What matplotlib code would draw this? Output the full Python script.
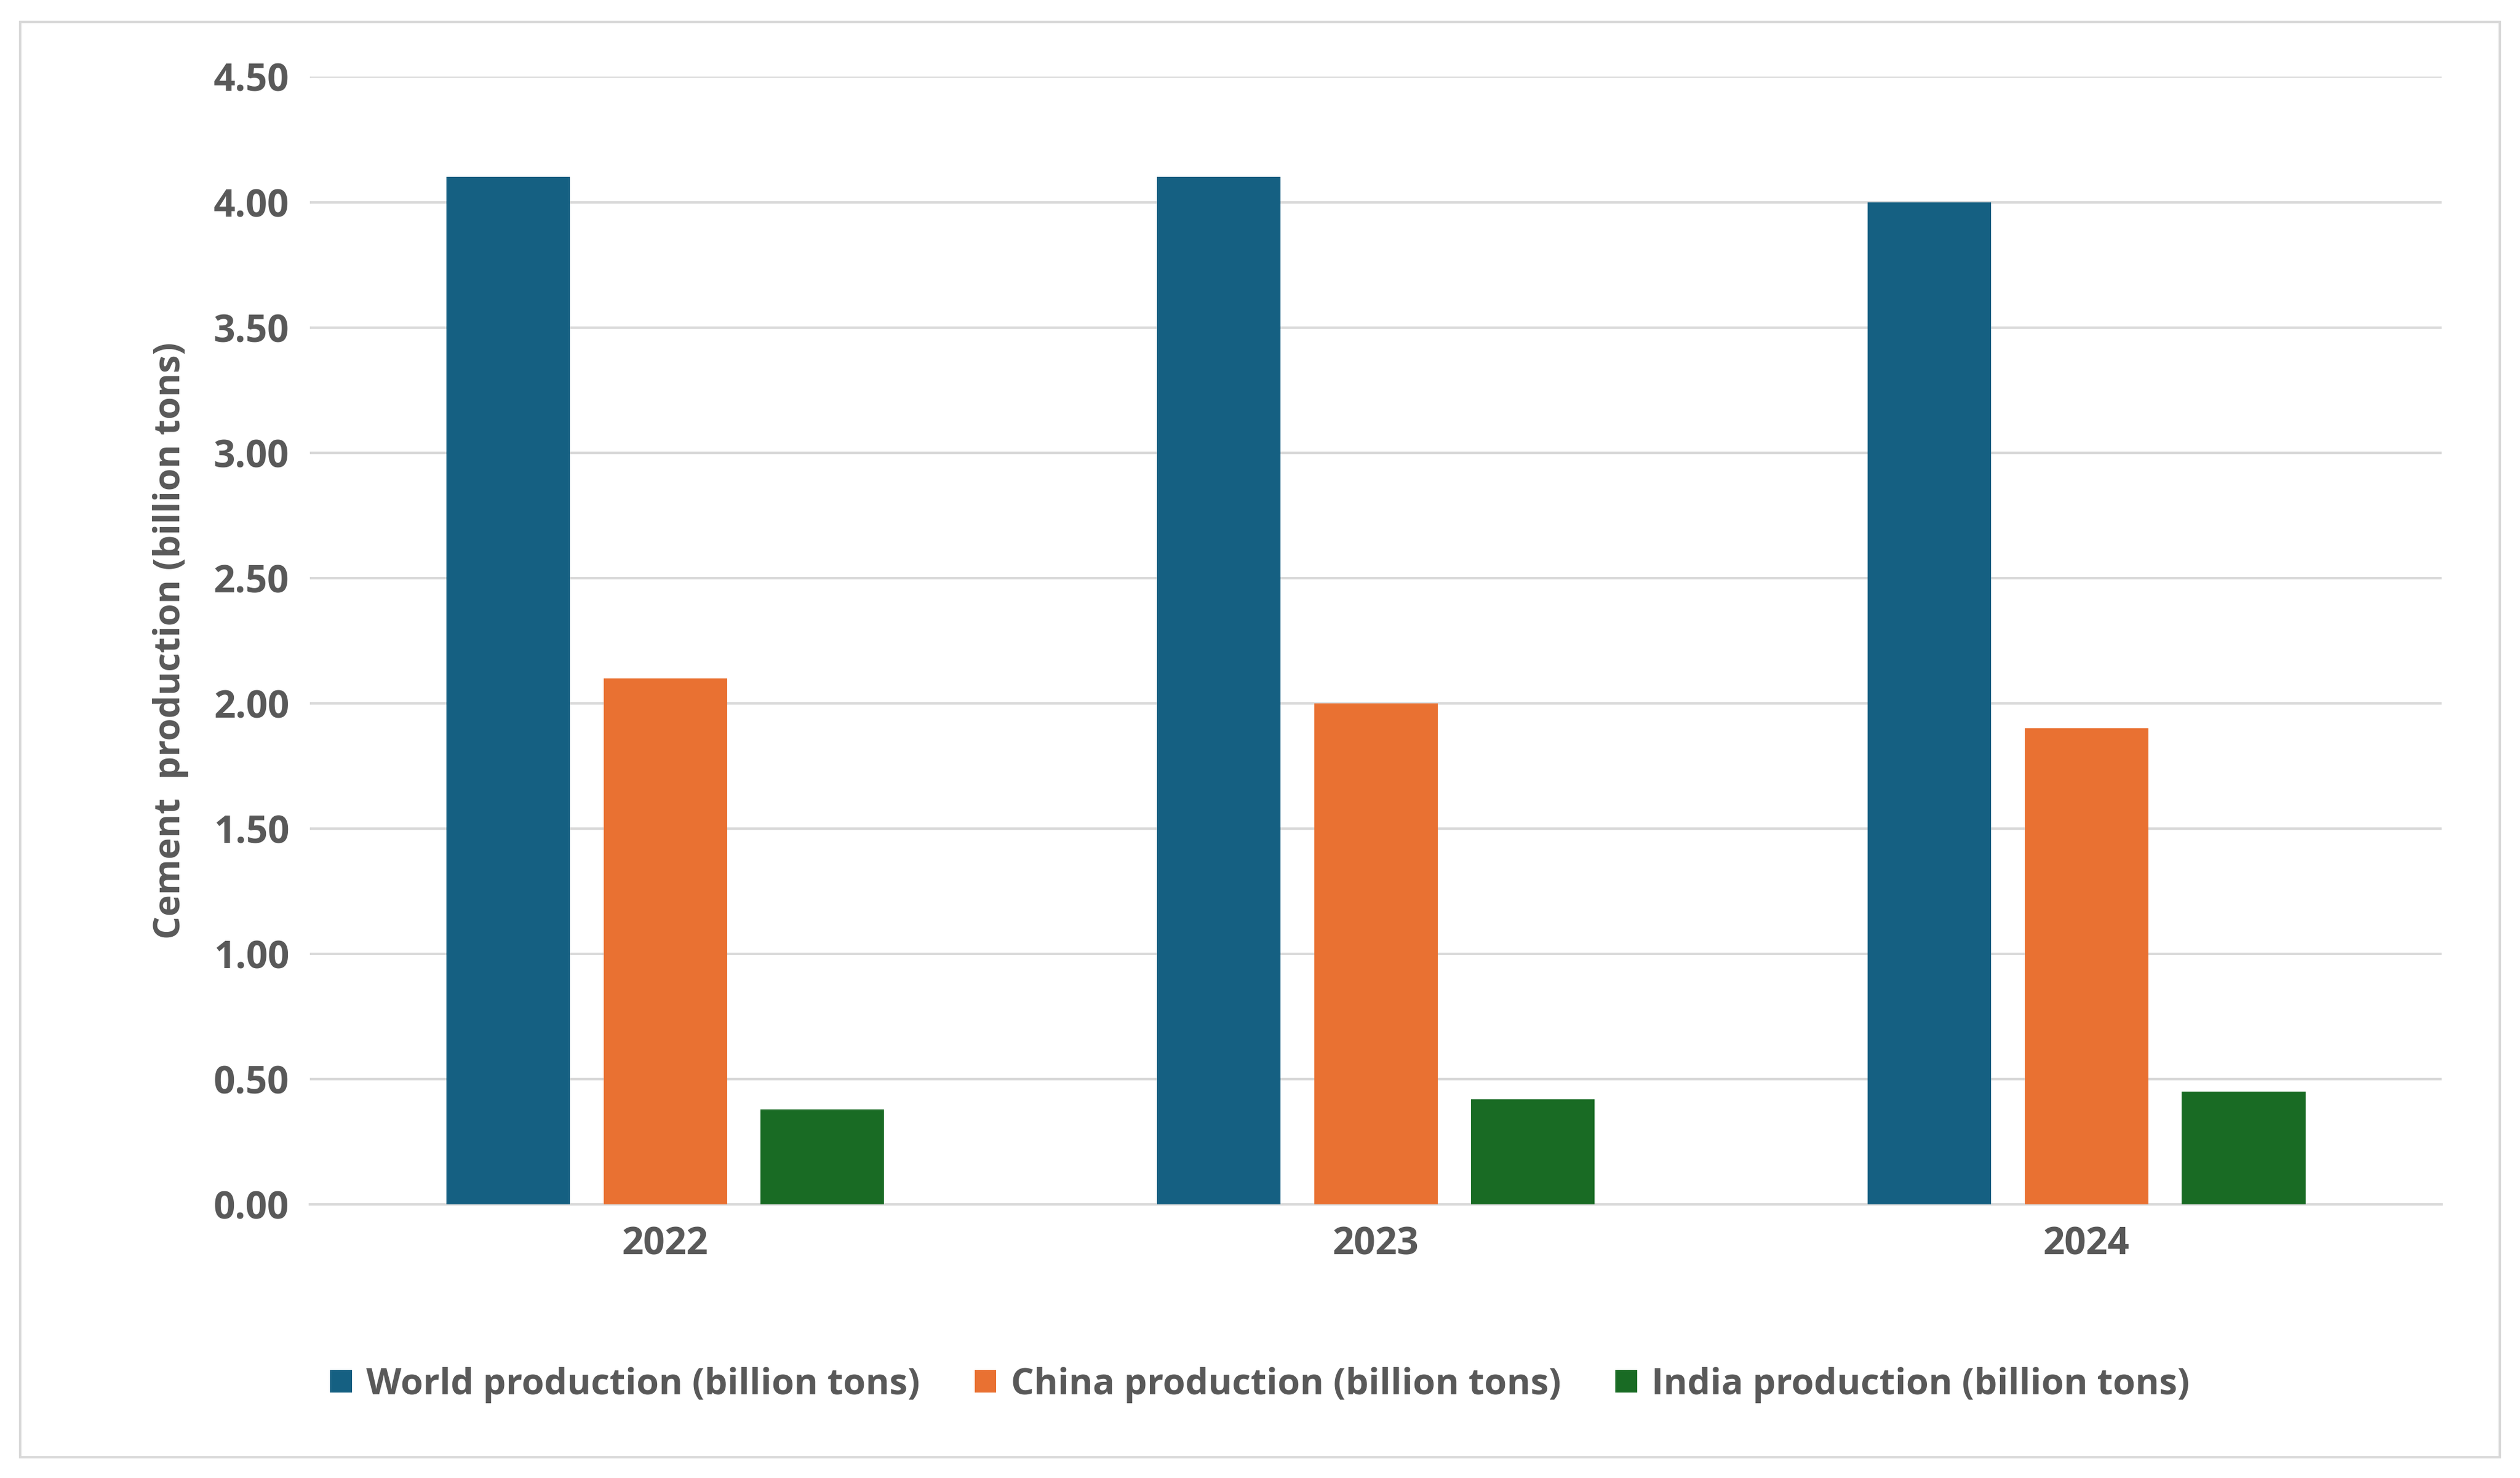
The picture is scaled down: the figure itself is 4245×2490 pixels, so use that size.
import matplotlib.pyplot as plt
import numpy as np
from matplotlib.patches import Rectangle

years = ["2022", "2023", "2024"]
world = [4.10, 4.10, 4.00]
china = [2.10, 2.00, 1.90]
india = [0.38, 0.42, 0.45]
series_names = ["World production (billion tons)", "China production (billion tons)",
                "India production (billion tons)"]
colors = ["#156082", "#E97132", "#196B24"]

plt.rcParams['font.family'] = ['Open Sans', 'DejaVu Sans']
grey = "#595959"

fig = plt.figure(figsize=(42.45, 24.9), dpi=100)
ax = fig.add_axes([0.123, 0.185, 0.846, 0.763])
fig.patches.append(Rectangle((0.008, 0.014), 0.984, 0.971, transform=fig.transFigure,
                             fill=False, edgecolor="#D9D9D9", linewidth=3))

x = np.arange(len(years))
w = 0.174
gap = 0.221
for i, (vals, name, c) in enumerate(zip([world, china, india], series_names, colors)):
    ax.bar(x + (i - 1) * gap, vals, w, color=c, label=name, zorder=3)

ax.set_xlim(-0.5, 2.5)
ax.set_ylim(0, 4.5)
ax.set_yticks(np.arange(0, 4.51, 0.5))
ax.set_yticklabels([f"{v:.2f}" for v in np.arange(0, 4.51, 0.5)])
ax.set_xticks(x)
ax.set_xticklabels(years)
ax.yaxis.grid(True, color="#D9D9D9", linewidth=3, zorder=0)
for s in ["top", "right", "left"]:
    ax.spines[s].set_visible(False)
ax.spines["bottom"].set_color("#D9D9D9")
ax.spines["bottom"].set_linewidth(3)
ax.tick_params(length=0, labelsize=46, labelcolor=grey, pad=25)
for lab in ax.get_xticklabels() + ax.get_yticklabels():
    lab.set_fontweight("bold")
ax.set_ylabel("Cement  production (billion tons)", fontsize=44, color=grey,
              fontweight="bold", labelpad=30)

fig.legend(loc="center", bbox_to_anchor=(0.5, 0.063), ncol=3, frameon=False,
           prop={"size": 44, "weight": "bold"}, labelcolor=grey,
           handlelength=0.6, handleheight=0.6, columnspacing=1.5, handletextpad=0.4)

fig.savefig("out.png", dpi=100)
